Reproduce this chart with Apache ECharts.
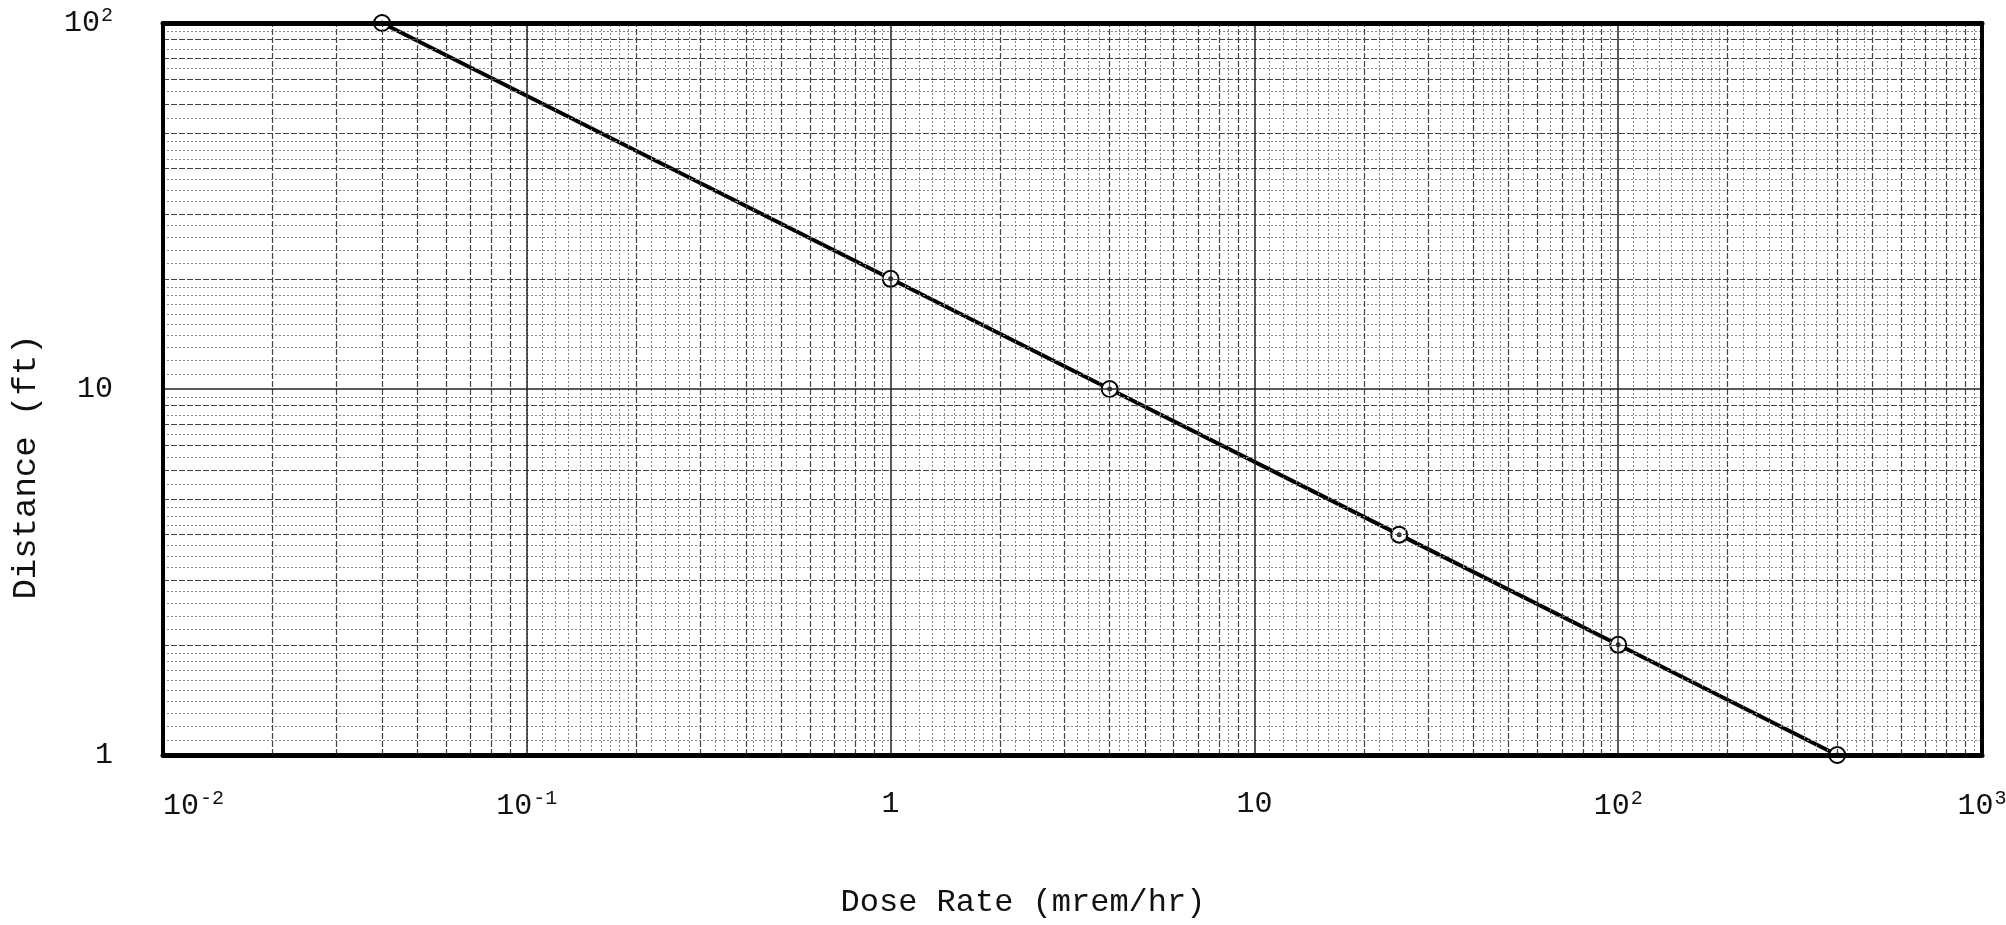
<!DOCTYPE html>
<html>
<head>
<meta charset="utf-8">
<script src="https://cdn.jsdelivr.net/npm/echarts@6/dist/echarts.min.js"></script>
<style>
  html, body { margin: 0; padding: 0; background: #fff; }
  #chart { width: 2006px; height: 925px; }
</style>
</head>
<body>
<div id="chart"></div>
<script>
// data (inverse-square falloff)
const doseRate = [0.04, 1, 4, 25, 100, 400];
const distance = [100, 20, 10, 4, 2, 1];

// tick labels
const xTickValues = [0.01, 0.1, 1, 10, 100, 1000];
const xTickLabels = ["10{s|-2}", "10{s|-1}", "1", "10", "10{s|2}", "10{s|3}"];
const yTickValues = [1, 10, 100];
const yTickLabels = ["1", "10", "10{s|2}"];

const FONT = "Liberation Mono";

// log paper rulings
const cycleSteps = [2, 3, 4, 5, 6, 7, 8, 9];
const fineSteps = [1.1, 1.2, 1.3, 1.4, 1.5, 1.6, 1.7, 1.8, 1.9, 2.2, 2.4, 2.6, 2.8,
  3.25, 3.5, 3.75, 4.25, 4.5, 4.75, 5.5, 6.5, 7.5, 8.5, 9.5];

function rulings(decades, steps) {
  const out = [];
  decades.forEach(d => steps.forEach(s => out.push(+(d * s).toPrecision(6))));
  return out;
}

const xDecades = [0.01, 0.1, 1, 10, 100];
const yDecades = [1, 10];

const chart = echarts.init(document.getElementById("chart"));

function tickFormatter(values, labels) {
  return function (v) {
    const i = values.findIndex(t => Math.abs(Math.log10(t) - Math.log10(v)) < 1e-6);
    return i >= 0 ? labels[i] : "";
  };
}

const richLabel = {
  s: { fontFamily: FONT, fontSize: 20, color: "#111", padding: [0, 0, 15, 1] }
};

const hiddenAxis = {
  axisLabel: { show: false },
  axisTick: { show: false },
  splitLine: { show: false }
};

const frameLine = w => ({ show: true, lineStyle: { color: "#000", width: w } });

function markLines(axisKey, values, style) {
  return {
    type: "line",
    data: [],
    silent: true,
    z: 1,
    markLine: {
      silent: true,
      animation: false,
      symbol: ["none", "none"],
      label: { show: false },
      lineStyle: style,
      data: values.map(v => ({ [axisKey]: v }))
    }
  };
}

const option = {
  backgroundColor: "#fff",
  animation: false,
  grid: {
    left: 163, right: 24, top: 23, bottom: 170,
    containLabel: false,
    outerBoundsMode: "none"
  },
  xAxis: [
    {
      type: "log", logBase: 10, min: 0.01, max: 1000, splitNumber: 5,
      position: "bottom", z: 10,
      axisLine: frameLine(5),
      axisTick: { show: false },
      axisLabel: {
        margin: 34, fontFamily: FONT, fontSize: 30, color: "#111",
        alignMinLabel: "left",
        formatter: tickFormatter(xTickValues, xTickLabels), rich: richLabel
      },
      splitLine: { show: true, lineStyle: { color: "#222", width: 1.5 } }
    },
    Object.assign({
      type: "log", logBase: 10, min: 0.01, max: 1000, position: "top", z: 10,
      axisLine: frameLine(5)
    }, hiddenAxis)
  ],
  yAxis: [
    {
      type: "log", logBase: 10, min: 1, max: 100, splitNumber: 2,
      position: "left", z: 10,
      axisLine: frameLine(4),
      axisTick: { show: false },
      axisLabel: {
        margin: 50, fontFamily: FONT, fontSize: 30, color: "#111",
        formatter: tickFormatter(yTickValues, yTickLabels), rich: richLabel
      },
      splitLine: { show: true, lineStyle: { color: "#222", width: 1.5 } }
    },
    Object.assign({
      type: "log", logBase: 10, min: 1, max: 100, position: "right", z: 10,
      axisLine: frameLine(4)
    }, hiddenAxis)
  ],
  graphic: [
    {
      type: "text", x: 1023, y: 903,
      style: {
        text: "Dose Rate (mrem/hr)", font: "32px " + FONT, fill: "#111",
        align: "center", verticalAlign: "middle"
      }
    },
    {
      type: "text", x: 26, y: 467, rotation: Math.PI / 2,
      style: {
        text: "Distance (ft)", font: "34px " + FONT, fill: "#111",
        align: "center", verticalAlign: "middle"
      }
    }
  ],
  series: [
    markLines("xAxis", rulings(xDecades, fineSteps), { color: "#888", width: 1, type: [2, 2] }),
    markLines("yAxis", rulings(yDecades, fineSteps), { color: "#888", width: 1, type: [2, 2] }),
    markLines("xAxis", rulings(xDecades, cycleSteps), { color: "#444", width: 1.2, type: [6, 2] }),
    markLines("yAxis", rulings(yDecades, cycleSteps), { color: "#444", width: 1.2, type: [6, 2] }),
    {
      name: "Distance",
      type: "line",
      z: 3,
      data: doseRate.map((x, i) => [x, distance[i]]),
      symbol: "emptyCircle",
      symbolSize: 16,
      lineStyle: { color: "#000", width: 4 },
      itemStyle: { color: "#000", borderColor: "#000", borderWidth: 2.5 }
    },
    {
      name: "centre",
      type: "scatter",
      z: 4,
      data: doseRate.map((x, i) => [x, distance[i]]),
      symbolSize: 5,
      itemStyle: { color: "#000" }
    }
  ]
};

chart.setOption(option);
</script>
</body>
</html>
